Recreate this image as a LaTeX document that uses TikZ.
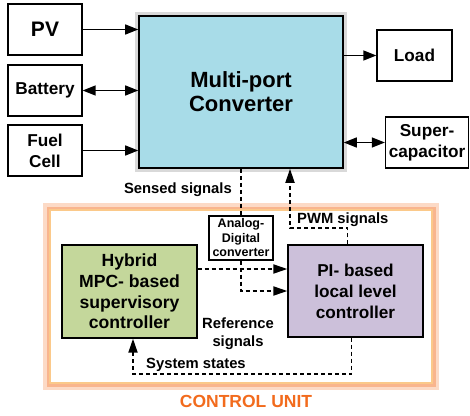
\documentclass[tikz,border=0pt]{standalone}
\usepackage{fontspec}
\setmainfont{Liberation Sans}
\usetikzlibrary{arrows.meta}
\definecolor{convblue}{HTML}{A8DCE8}
\definecolor{mpcgreen}{HTML}{C4D79B}
\definecolor{pipurple}{HTML}{CCC0DA}
\definecolor{unitorange}{HTML}{F26B1D}
\definecolor{unitedge}{HTML}{FBC98A}
\begin{document}
\begin{tikzpicture}[x=1pt, y=-1pt,
    every node/.style={font=\bfseries},
    block/.style={draw, line width=1.3pt, align=center, inner sep=0pt,
      font=\fontsize{17.2}{21}\selectfont\bfseries},
    flow/.style={line width=1.4pt, -{Triangle[length=13pt,width=10pt]}},
    twoway/.style={line width=1.4pt, {Triangle[length=13pt,width=10pt]}-{Triangle[length=13pt,width=10pt]}},
    sig/.style={line width=1.8pt, dash pattern=on 4pt off 3pt},
    sigtip/.style={-{Triangle[length=14pt,width=9pt]}},
    siglabel/.style={font=\fontsize{14.8}{18}\selectfont\bfseries, align=center, inner sep=0pt}]
    \useasboundingbox (0,0) rectangle (470,415);

    % control unit frame with glow
    \draw[unitorange!25, line width=14pt] (50,210) rectangle (432,383);
    \draw[unitorange!50, line width=7pt] (50,210) rectangle (432,383);
    \draw[unitedge, fill=white, line width=2pt] (50,210) rectangle (432,383);
    \node[font=\fontsize{17.5}{20}\selectfont\bfseries, text=unitorange] (unitlabel) at (246,401) {CONTROL UNIT};

    % sources and loads
    \node[block, minimum width=74pt, minimum height=51pt] (pv) at (45,29.5) {\fontsize{21}{24}\selectfont PV};
    \node[block, minimum width=74pt, minimum height=51pt] (battery) at (45,90.5) {Battery};
    \node[block, minimum width=74pt, minimum height=51pt] (fuelcell) at (45,150.5) {Fuel\\Cell};
    \node[block, minimum width=75pt, minimum height=51pt] (load) at (414.5,55.5) {Load};
    \node[block, minimum width=83pt, minimum height=51pt] (supercap) at (427,142.5) {Super-\\capacitor};

    % converter with shadow
    \draw[gray!30, line width=8pt] (139,16) rectangle (343,168);
    \node[block, line width=1.6pt, fill=convblue, minimum width=204pt, minimum height=152pt,
      font=\fontsize{22}{24}\selectfont\bfseries] (converter) at (241,92) {Multi-port\\Converter};

    % controllers
    \node[block, fill=mpcgreen, minimum width=135pt, minimum height=93pt,
      font=\fontsize{17.6}{20.8}\selectfont\bfseries] (hybrid) at (129.5,291.5) {Hybrid\\MPC- based\\supervisory\\controller};
    \node[block, fill=pipurple, minimum width=135pt, minimum height=92pt] (pilocal) at (355.5,291) {PI- based\\local level\\controller};
    \node[draw, line width=1.3pt, fill=white, align=center, inner sep=0pt, minimum width=64pt, minimum height=44pt,
      font=\fontsize{12.5}{14.5}\selectfont\bfseries] (adc) at (241,238) {Analog-\\Digital\\converter};

    % power flow
    \draw[flow] (pv.east) -- (pv.east -| converter.west);
    \draw[twoway] (battery.east) -- (battery.east -| converter.west);
    \draw[flow] (fuelcell.east) -- (fuelcell.east -| converter.west);
    \draw[flow] (load.west -| converter.east) -- (load.west);
    \draw[twoway] (supercap.west -| converter.east) -- (supercap.west);

    % signals
    \draw[sig] (adc.north |- converter.south) -- (adc.north);
    \node[siglabel, anchor=east] (sensed) at (232,190) {Sensed signals};
    \draw[sig, sigtip] (adc.south) |- (pilocal.west);
    \coordinate (pwmbend) at (290,228);
    \draw[sig, sigtip] ([xshift=-8pt]pilocal.north) |- (pwmbend) -- (pwmbend |- converter.south);
    \node[siglabel, anchor=west] (pwm) at (297,220) {PWM signals};
    \draw[sig, sigtip] ([yshift=22.5pt]hybrid.east) -- ([yshift=22.5pt]hybrid.east -| pilocal.west);
    \node[siglabel] (reference) at (238,334) {Reference\\signals};
    \coordinate (statesbend) at (133,374);
    \draw[sig, sigtip] ([xshift=-4pt]pilocal.south) |- (statesbend) -- (statesbend |- hybrid.south);
    \node[siglabel, anchor=west] (states) at (146,365) {System states};
\end{tikzpicture}
\end{document}
